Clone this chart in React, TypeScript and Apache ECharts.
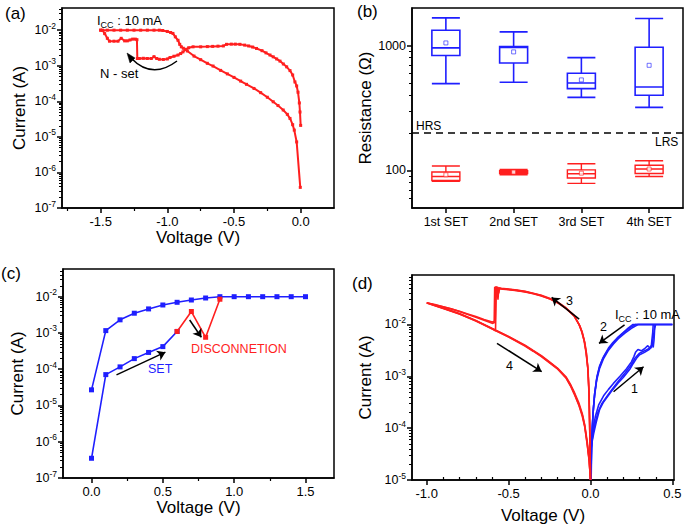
import React, { useEffect, useRef } from 'react';
import * as echarts from 'echarts';

type Pt = [number, number];

const RED = '#ff1f1f';
const BLUE = '#1f1fff';
const BLACK = '#000';
const FONT = "'Liberation Sans', Arial, Helvetica, sans-serif";

// ---------------- (a) negative I-V sweep ----------------
const aSetSweep: Pt[] = [
  [0, 2.1e-5], [-0.005, 5e-5], [-0.01, 9e-5], [-0.02, 1.8e-4], [-0.03, 2.7e-4], [-0.043, 3.5e-4],
  [-0.06, 5.5e-4], [-0.08, 7.3e-4], [-0.105, 9.3e-4], [-0.13, 1.12e-3], [-0.155, 1.35e-3],
  [-0.18, 1.55e-3], [-0.206, 1.78e-3], [-0.23, 2e-3], [-0.26, 2.3e-3], [-0.29, 2.65e-3],
  [-0.331, 3.06e-3], [-0.36, 3.35e-3], [-0.39, 3.6e-3], [-0.42, 3.8e-3], [-0.456, 4e-3],
  [-0.49, 4.05e-3], [-0.52, 4.05e-3], [-0.556, 4e-3], [-0.58, 3.6e-3], [-0.62, 3.55e-3],
  [-0.66, 3.5e-3], [-0.7, 3.45e-3], [-0.75, 3.4e-3], [-0.807, 3.4e-3], [-0.84, 3.2e-3],
  [-0.86, 2.9e-3], [-0.883, 2.45e-3], [-0.9, 2.2e-3], [-0.92, 2e-3], [-0.95, 1.85e-3],
  [-0.98, 1.7e-3], [-1.0, 1.55e-3], [-1.03, 1.5e-3], [-1.06, 1.52e-3], [-1.08, 1.6e-3],
  [-1.1, 1.8e-3], [-1.12, 1.6e-3], [-1.15, 1.6e-3], [-1.18, 1.62e-3], [-1.21, 1.6e-3],
  [-1.225, 1.6e-3], [-1.228, 5.4e-3], [-1.24, 5.6e-3], [-1.26, 5.6e-3], [-1.28, 5.3e-3],
  [-1.3, 5e-3], [-1.32, 5e-3], [-1.346, 5.9e-3], [-1.37, 4.9e-3], [-1.4, 4.9e-3],
  [-1.434, 4.9e-3], [-1.45, 5.9e-3], [-1.47, 8e-3], [-1.486, 1e-2], [-1.5, 1e-2],
];
const aReturnSweep: Pt[] = [
  [-1.5, 1e-2], [-1.45, 1e-2], [-1.4, 1e-2], [-1.35, 1e-2], [-1.3, 1e-2], [-1.25, 1e-2],
  [-1.2, 1e-2], [-1.15, 1e-2], [-1.1, 1e-2], [-1.06, 1e-2], [-1.035, 9.8e-3], [-1.0, 9.2e-3],
  [-0.975, 8.6e-3], [-0.958, 8.1e-3], [-0.94, 6.5e-3], [-0.92, 5.2e-3], [-0.907, 4e-3],
  [-0.895, 3.4e-3], [-0.88, 3.1e-3], [-0.85, 2.6e-3], [-0.8, 1.87e-3], [-0.75, 1.48e-3],
  [-0.7, 1.17e-3], [-0.657, 9.8e-4], [-0.6, 7.4e-4], [-0.55, 5.9e-4], [-0.5, 4.7e-4],
  [-0.45, 3.7e-4], [-0.406, 3e-4], [-0.35, 2.3e-4], [-0.3, 1.75e-4], [-0.25, 1.3e-4],
  [-0.206, 9.7e-5], [-0.17, 7.6e-5], [-0.131, 5.7e-5], [-0.1, 4.3e-5], [-0.08, 3.3e-5],
  [-0.06, 2.2e-5], [-0.048, 1.55e-5], [-0.03, 7.2e-6], [-0.003, 3.8e-7],
];
const aVoltageTicks = [-1.5, -1.0, -0.5, 0.0];
const aVoltageMinor = [-1.75, -1.25, -0.75, -0.25];
const aCurrentTicks = [1e-7, 1e-6, 1e-5, 1e-4, 1e-3, 1e-2];

// ---------------- (b) resistance distribution ----------------
const bCategories = ['1st SET', '2nd SET', '3rd SET', '4th SET'];
// [min, Q1, median, Q3, max]
const bHrsBoxes = [
  [496, 832, 958, 1327, 1667],
  [508, 726, 964, 982, 1288],
  [385, 452, 502, 600, 801],
  [320, 400, 466, 970, 1646],
];
const bHrsMeans = [1050, 890, 531, 695];
const bLrsBoxes = [
  [82, 83, 89.5, 97, 108.5],
  [92.3, 94.6, 97, 99.5, 102],
  [78.7, 87, 94, 101, 113],
  [89.5, 94.6, 102.6, 110, 119.6],
];
const bLrsMeans = [92.3, 97, 95, 102.6];
const bThreshold = 200;
const bResistanceTicks = [100, 1000];

// ---------------- (c) SET with disconnection ----------------
const cSetVoltage = [0, 0.1, 0.2, 0.3, 0.4, 0.5, 0.6];
const cSetCurrent = [3.5e-7, 7.1e-5, 1.16e-4, 1.96e-4, 2.9e-4, 4.2e-4, 1.1e-3];
const cDiscVoltage = [0.6, 0.7, 0.8, 0.9];
const cDiscCurrent = [1.1e-3, 3.9e-3, 7.6e-4, 8.5e-3];
const cReturnVoltage = [1.5, 1.4, 1.3, 1.2, 1.1, 1.0, 0.9, 0.8, 0.7, 0.6, 0.5, 0.4, 0.3, 0.2, 0.1, 0];
const cReturnCurrent = [1e-2, 1e-2, 1e-2, 1e-2, 1e-2, 1e-2, 1e-2, 9.2e-3, 8.1e-3, 7e-3, 5.9e-3, 4.6e-3, 3.5e-3, 2.3e-3, 1.16e-3, 2.7e-5];
const cVoltageTicks = [0.0, 0.5, 1.0, 1.5];
const cVoltageMinor = [0.25, 0.75, 1.25];
const cCurrentTicks = [1e-7, 1e-6, 1e-5, 1e-4, 1e-3, 1e-2];

// ---------------- (d) bipolar cycles ----------------
const dBlueCycle1: Pt[] = [
  [0, 1e-5], [0.004, 3e-5], [0.01, 5.5e-5], [0.02, 8e-5], [0.035, 1.3e-4], [0.056, 2.3e-4],
  [0.08, 3.2e-4], [0.11, 4.3e-4], [0.137, 5.6e-4], [0.17, 7.5e-4], [0.2, 9.5e-4], [0.239, 1.35e-3],
  [0.26, 1.75e-3], [0.28, 2.2e-3], [0.3, 2.6e-3], [0.33, 2.9e-3], [0.36, 3.3e-3], [0.375, 4e-3],
  [0.385, 6e-3], [0.39, 8e-3], [0.395, 1e-2], [0.45, 1e-2], [0.5, 1e-2],
  [0.4, 1e-2], [0.3, 1e-2], [0.26, 1e-2], [0.23, 8.5e-3], [0.2, 7e-3], [0.17, 5.8e-3],
  [0.137, 4.5e-3], [0.11, 3.5e-3], [0.08, 2.4e-3], [0.056, 1.6e-3], [0.04, 1e-3], [0.026, 4.8e-4],
  [0.018, 2.5e-4], [0.012, 1.1e-4], [0.007, 4e-5], [0.004, 1e-5],
];
const dBlueCycle2: Pt[] = [
  [0, 1e-5], [0.006, 4e-5], [0.015, 9e-5], [0.03, 1.7e-4], [0.05, 2.8e-4], [0.08, 4.2e-4],
  [0.11, 5.6e-4], [0.14, 7.3e-4], [0.18, 1e-3], [0.22, 1.4e-3], [0.25, 1.9e-3], [0.265, 2.4e-3],
  [0.275, 2.9e-3], [0.29, 3.3e-3], [0.31, 3.1e-3], [0.33, 3.4e-3], [0.35, 3.9e-3], [0.36, 3.6e-3],
  [0.37, 3.5e-3], [0.375, 5e-3], [0.38, 7e-3], [0.383, 1e-2], [0.5, 1e-2],
  [0.29, 1e-2], [0.25, 8.4e-3], [0.21, 6.8e-3], [0.17, 5.3e-3], [0.14, 4.2e-3], [0.11, 3.2e-3],
  [0.08, 2.2e-3], [0.055, 1.4e-3], [0.038, 8.5e-4], [0.025, 4.2e-4], [0.016, 2e-4], [0.01, 9e-5],
  [0.005, 3e-5], [0.003, 1e-5],
];
const dBlueCycle3: Pt[] = [
  [0, 1e-5], [0.005, 3.5e-5], [0.012, 7e-5], [0.025, 1.1e-4], [0.045, 2e-4], [0.07, 3e-4],
  [0.1, 4.1e-4], [0.13, 5.5e-4], [0.17, 8e-4], [0.21, 1.15e-3], [0.245, 1.6e-3], [0.27, 2.2e-3],
  [0.3, 2.8e-3], [0.33, 3.1e-3], [0.355, 3.4e-3], [0.37, 3.8e-3], [0.378, 4.2e-3], [0.383, 3.6e-3],
  [0.388, 5e-3], [0.392, 8.5e-3], [0.398, 1e-2], [0.5, 1e-2],
  [0.275, 1e-2], [0.24, 8.6e-3], [0.2, 6.9e-3], [0.16, 5.2e-3], [0.13, 4e-3], [0.1, 3e-3],
  [0.075, 2.2e-3], [0.055, 1.5e-3], [0.038, 9e-4], [0.025, 4.5e-4], [0.015, 1.8e-4], [0.009, 8e-5],
  [0.005, 2.5e-5], [0.003, 1e-5],
];
const dRedCycle1: Pt[] = [
  [0, 1e-5], [-0.004, 8e-5], [-0.008, 4e-4], [-0.015, 1.35e-3], [-0.025, 2.8e-3], [-0.035, 4.5e-3],
  [-0.05, 7e-3], [-0.065, 9.4e-3], [-0.1, 1.45e-2], [-0.146, 2e-2], [-0.2, 2.6e-2], [-0.247, 3.1e-2],
  [-0.3, 3.55e-2], [-0.349, 3.9e-2], [-0.4, 4.25e-2], [-0.449, 4.5e-2], [-0.5, 4.7e-2],
  [-0.551, 4.85e-2], [-0.575, 5.1e-2], [-0.578, 5.4e-2], [-0.582, 1.1e-2], [-0.6, 1.05e-2],
  [-0.65, 1.2e-2], [-0.7, 1.38e-2], [-0.753, 1.58e-2], [-0.8, 1.78e-2], [-0.85, 2e-2], [-0.9, 2.2e-2],
  [-0.95, 2.42e-2], [-1.0, 2.62e-2],
  [-0.9, 2.05e-2], [-0.8, 1.6e-2], [-0.7, 1.18e-2], [-0.6, 8.3e-3], [-0.5, 5.8e-3], [-0.4, 3.9e-3],
  [-0.35, 3.1e-3], [-0.3, 2.45e-3], [-0.25, 1.85e-3], [-0.2, 1.4e-3], [-0.15, 9.5e-4], [-0.12, 6.5e-4],
  [-0.1, 4.8e-4], [-0.07, 2.8e-4], [-0.05, 1.8e-4], [-0.035, 1.1e-4], [-0.02, 5e-5], [-0.008, 2.4e-5],
  [0, 1e-5],
];
const dRedCycle2: Pt[] = [
  [0, 1e-5], [-0.005, 1.2e-4], [-0.01, 6e-4], [-0.017, 1.5e-3], [-0.028, 3e-3], [-0.04, 5e-3],
  [-0.055, 7.5e-3], [-0.07, 1e-2], [-0.1, 1.5e-2], [-0.15, 2.1e-2], [-0.2, 2.7e-2], [-0.25, 3.2e-2],
  [-0.3, 3.65e-2], [-0.35, 4e-2], [-0.4, 4.35e-2], [-0.45, 4.6e-2], [-0.5, 4.8e-2], [-0.545, 5e-2],
  [-0.56, 5.1e-2], [-0.565, 3e-2], [-0.57, 5e-2], [-0.575, 5.3e-2], [-0.58, 7.5e-3], [-0.6, 8.4e-3],
  [-0.7, 1.2e-2], [-0.8, 1.62e-2], [-0.9, 2.07e-2], [-1.0, 2.62e-2],
  [-0.9, 2.07e-2], [-0.8, 1.62e-2], [-0.7, 1.2e-2], [-0.6, 8.4e-3], [-0.5, 5.9e-3], [-0.4, 4e-3],
  [-0.35, 3.15e-3], [-0.3, 2.5e-3], [-0.25, 1.9e-3], [-0.2, 1.42e-3], [-0.15, 9.8e-4], [-0.12, 6.8e-4],
  [-0.1, 5e-4], [-0.07, 3e-4], [-0.05, 1.9e-4], [-0.035, 1.15e-4], [-0.02, 5.5e-5], [-0.008, 2.5e-5],
  [0, 1e-5],
];
const dRedCycle3: Pt[] = [
  [0, 1e-5], [-0.004, 7e-5], [-0.009, 4.5e-4], [-0.016, 1.4e-3], [-0.026, 2.9e-3], [-0.037, 4.7e-3],
  [-0.052, 7.2e-3], [-0.068, 9.7e-3], [-0.1, 1.47e-2], [-0.148, 2.05e-2], [-0.2, 2.65e-2],
  [-0.25, 3.15e-2], [-0.3, 3.6e-2], [-0.35, 3.95e-2], [-0.4, 4.3e-2], [-0.45, 4.55e-2],
  [-0.5, 4.75e-2], [-0.54, 4.9e-2], [-0.555, 5e-2], [-0.56, 4e-2], [-0.565, 5.2e-2], [-0.585, 5.2e-2],
  [-0.588, 1.15e-2], [-0.6, 1.12e-2], [-0.65, 1.25e-2], [-0.7, 1.42e-2], [-0.75, 1.6e-2],
  [-0.8, 1.8e-2], [-0.9, 2.2e-2], [-1.0, 2.6e-2],
  [-0.9, 2.04e-2], [-0.8, 1.59e-2], [-0.7, 1.17e-2], [-0.6, 8.2e-3], [-0.5, 5.7e-3], [-0.4, 3.85e-3],
  [-0.35, 3.05e-3], [-0.3, 2.4e-3], [-0.25, 1.82e-3], [-0.2, 1.37e-3], [-0.15, 9.3e-4], [-0.12, 6.3e-4],
  [-0.1, 4.6e-4], [-0.07, 2.7e-4], [-0.05, 1.7e-4], [-0.035, 1.05e-4], [-0.02, 4.8e-5], [-0.008, 2.3e-5],
  [0, 1e-5],
];
const dVoltageTicks = [-1.0, -0.5, 0.0, 0.5];
const dVoltageMinor = [-0.9, -0.8, -0.7, -0.6, -0.4, -0.3, -0.2, -0.1, 0.1, 0.2, 0.3, 0.4];
const dCurrentTicks = [1e-5, 1e-4, 1e-3, 1e-2];

// ---------------- helpers ----------------
const logMinors = (min: number, max: number) => {
  const out: number[] = [];
  for (let e = Math.floor(Math.log10(min)) - 1; e <= Math.ceil(Math.log10(max)); e++) {
    for (let k = 2; k <= 9; k++) {
      const v = k * Math.pow(10, e);
      if (v > min * 1.0001 && v < max * 0.9999) out.push(v);
    }
  }
  return out;
};
const supFormatter = (v: number) => `{b|10}{s|${Math.round(Math.log10(v))}}`;
const supRich = {
  b: { fontSize: 12.5, fontFamily: FONT, color: BLACK, lineHeight: 18 },
  s: { fontSize: 8.5, fontFamily: FONT, color: BLACK, verticalAlign: 'top' },
};
const nameStyle = { fontSize: 17, color: BLACK, fontFamily: FONT };

function voltageAxes(gridIndex: number, min: number, max: number, majors: number[], minors: number[], nameGap: number, minorInside: boolean) {
  return [
    {
      type: 'value', gridIndex, min, max, position: 'bottom',
      name: 'Voltage (V)', nameLocation: 'middle', nameGap, nameTextStyle: nameStyle,
      axisLine: { show: true, onZero: false, lineStyle: { color: BLACK, width: 1.5 } },
      axisTick: { show: true, length: 5, inside: false, customValues: majors, lineStyle: { color: BLACK, width: 1.5 } },
      axisLabel: { show: true, customValues: majors, formatter: (v: number) => Number(v).toFixed(1), color: BLACK, fontSize: 13, fontFamily: FONT, margin: 7 },
      splitLine: { show: false },
    },
    {
      type: 'value', gridIndex, min, max, position: 'bottom',
      axisLine: { show: false, onZero: false },
      axisTick: { show: true, length: 3, inside: minorInside, customValues: minors, lineStyle: { color: BLACK, width: 1.2 } },
      axisLabel: { show: false },
      splitLine: { show: false },
    },
  ];
}

function logAxes(gridIndex: number, min: number, max: number, majors: number[], name: string, nameGap: number, formatter: (v: number) => string, rich?: any) {
  return [
    {
      type: 'log', logBase: 10, gridIndex, min, max, position: 'left',
      name, nameLocation: 'middle', nameGap, nameTextStyle: nameStyle,
      axisLine: { show: true, onZero: false, lineStyle: { color: BLACK, width: 1.5 } },
      axisTick: { show: true, length: 5, inside: false, customValues: majors, lineStyle: { color: BLACK, width: 1.5 } },
      axisLabel: { show: true, customValues: majors, formatter, rich, color: BLACK, fontSize: 12.5, fontFamily: FONT, margin: 6 },
      splitLine: { show: false },
    },
    {
      type: 'log', logBase: 10, gridIndex, min, max, position: 'left',
      axisLine: { show: false, onZero: false },
      axisTick: { show: true, length: 3, inside: false, customValues: logMinors(min, max), lineStyle: { color: BLACK, width: 1 } },
      axisLabel: { show: false },
      splitLine: { show: false },
    },
  ];
}

const arrowLine = (pairs: [Pt, Pt][]) => ({
  silent: true,
  symbol: ['none', 'arrow'],
  symbolSize: 8,
  label: { show: false },
  itemStyle: { color: BLACK },
  lineStyle: { color: BLACK, width: 1.5, type: 'solid' },
  emphasis: { disabled: true },
  data: pairs.map(([s, e]) => [{ coord: s }, { coord: e }]),
});

const txt = (x: number, y: number, text: string, fontSize: number, fill = BLACK, rich?: any) => ({
  type: 'text', x, y, silent: true,
  style: { text, x: 0, y: 0, fontSize, fontFamily: FONT, fill, align: 'left', verticalAlign: 'top', textAlign: 'left', textVerticalAlign: 'top', rich },
});

const iccRich = (size: number) => ({
  n: { fontSize: size, fontFamily: FONT, fill: BLACK, color: BLACK, lineHeight: 18 },
  sub: { fontSize: size - 4, fontFamily: FONT, fill: BLACK, color: BLACK, verticalAlign: 'bottom' },
});

export default function App() {
  const ref = useRef<HTMLDivElement>(null);
  useEffect(() => {
    if (!ref.current) return;
    const chart = echarts.init(ref.current, undefined, { renderer: 'svg' });

    const gridBase = { show: true, borderColor: BLACK, borderWidth: 1.5, backgroundColor: 'transparent', containLabel: false, outerBoundsMode: 'none' };

    const catAxis = (show: boolean) => ({
      type: 'category', gridIndex: 1, data: bCategories, position: 'bottom', boundaryGap: true, show,
      axisLine: { show: true, onZero: false, lineStyle: { color: BLACK, width: 1.5 } },
      axisTick: { show: true, alignWithLabel: true, length: 5, lineStyle: { color: BLACK, width: 1.5 } },
      axisLabel: { color: BLACK, fontSize: 12.5, fontFamily: FONT, margin: 7 },
      splitLine: { show: false },
    });

    const xAxes: any[] = [
      ...voltageAxes(0, -1.79, 0.25, aVoltageTicks, aVoltageMinor, 21, false), // 0,1
      catAxis(true), // 2
      catAxis(false), // 3
      ...voltageAxes(2, -0.2, 1.7, cVoltageTicks, cVoltageMinor, 21, false), // 4,5
      ...voltageAxes(3, -1.09, 0.51, dVoltageTicks, dVoltageMinor, 27, true), // 6,7
    ];
    const yAxes: any[] = [
      ...logAxes(0, 1e-7, 0.042, aCurrentTicks, 'Current (A)', 34, supFormatter, supRich), // 0,1
      ...logAxes(1, 50, 2000, bResistanceTicks, 'Resistance (Ω)', 33, (v: number) => String(Math.round(v))), // 2,3
      ...logAxes(2, 1e-7, 0.058, cCurrentTicks, 'Current (A)', 37, supFormatter, supRich), // 4,5
      ...logAxes(3, 1e-5, 0.09, dCurrentTicks, 'Current (A)', 38, supFormatter, supRich), // 6,7
    ];

    const lineBase = { type: 'line', showSymbol: true, silent: true, animation: false };

    const series: any[] = [
      // (a)
      { ...lineBase, xAxisIndex: 0, yAxisIndex: 0, data: aSetSweep, symbol: 'rect', symbolSize: 3,
        itemStyle: { color: RED }, lineStyle: { color: RED, width: 2 } },
      { ...lineBase, xAxisIndex: 0, yAxisIndex: 0, data: aReturnSweep, symbol: 'rect', symbolSize: 3,
        itemStyle: { color: RED }, lineStyle: { color: RED, width: 2 } },
      // (b)
      { type: 'boxplot', xAxisIndex: 2, yAxisIndex: 2, data: bHrsBoxes, boxWidth: [28, 28], silent: true,
        itemStyle: { color: 'rgba(0,0,0,0)', borderColor: BLUE, borderWidth: 1.6 },
        markLine: { silent: true, symbol: ['none', 'none'], label: { show: false },
          lineStyle: { color: BLACK, width: 1.5, type: [7, 5] }, data: [{ yAxis: bThreshold }] } },
      { type: 'boxplot', xAxisIndex: 3, yAxisIndex: 2, data: bLrsBoxes, boxWidth: [28, 28], silent: true,
        itemStyle: { color: 'rgba(0,0,0,0)', borderColor: RED, borderWidth: 1.4 } },
      { type: 'scatter', xAxisIndex: 2, yAxisIndex: 2, silent: true, symbol: 'rect', symbolSize: 4,
        data: bHrsMeans.map((m, i) => [i, m]), itemStyle: { color: '#fff', borderColor: BLUE, borderWidth: 0.8 } },
      { type: 'scatter', xAxisIndex: 2, yAxisIndex: 2, silent: true, symbol: 'rect', symbolSize: 4,
        data: bLrsMeans.map((m, i) => [i, m]), itemStyle: { color: '#fff', borderColor: RED, borderWidth: 0.8 } },
      // (c)
      { ...lineBase, xAxisIndex: 4, yAxisIndex: 4, data: cReturnVoltage.map((v, i) => [v, cReturnCurrent[i]]),
        symbol: 'rect', symbolSize: 5, itemStyle: { color: BLUE }, lineStyle: { color: BLUE, width: 1.6 } },
      { ...lineBase, xAxisIndex: 4, yAxisIndex: 4, data: cSetVoltage.map((v, i) => [v, cSetCurrent[i]]),
        symbol: 'rect', symbolSize: 5, itemStyle: { color: BLUE }, lineStyle: { color: BLUE, width: 1.6 },
        markLine: arrowLine([
          [[0.175, 6.97e-5], [0.518, 2.95e-4]],
          [[0.688, 2.28e-3], [0.77, 7.6e-4]],
        ]) },
      { ...lineBase, xAxisIndex: 4, yAxisIndex: 4, data: cDiscVoltage.map((v, i) => [v, cDiscCurrent[i]]),
        symbol: 'rect', symbolSize: 5, itemStyle: { color: RED }, lineStyle: { color: RED, width: 1.6 }, z: 3 },
      // (d)
      ...[dBlueCycle1, dBlueCycle2, dBlueCycle3].map((d) => ({
        ...lineBase, xAxisIndex: 6, yAxisIndex: 6, data: d, showSymbol: false, symbol: 'none',
        lineStyle: { color: BLUE, width: 1.6 },
      })),
      ...[dRedCycle1, dRedCycle2, dRedCycle3].map((d, i) => ({
        ...lineBase, xAxisIndex: 6, yAxisIndex: 6, data: d, showSymbol: false, symbol: 'none',
        lineStyle: { color: RED, width: 1.6 },
        ...(i === 0 ? {
          markLine: arrowLine([
            [[-0.069, 1.27e-2], [-0.237, 3.33e-2]],
            [[0.208, 9.8e-3], [0.052, 4.3e-3]],
            [[-0.571, 4.34e-3], [-0.298, 1.23e-3]],
            [[0.141, 5.03e-4], [0.324, 1.53e-3]],
          ]),
        } : {}),
      })),
    ];

    const graphic: any[] = [
      txt(5, 5, '(a)', 17),
      txt(97, 11, '{n|I}{sub|CC}{n| : 10 mA}', 13, BLACK, iccRich(13)),
      txt(100, 67, 'N - set', 13),
      // curved "N - set" arrow
      { type: 'bezierCurve', silent: true,
        shape: { x1: 177, y1: 61, x2: 131, y2: 58, cpx1: 152, cpy1: 80 },
        style: { stroke: BLACK, lineWidth: 1.5, fill: 'none' } },
      { type: 'polygon', silent: true,
        shape: { points: [[127, 53], [135, 58], [130, 63]] },
        style: { fill: BLACK, stroke: BLACK, lineWidth: 0.5 } },
      txt(357, 3, '(b)', 17),
      txt(416, 120, 'HRS', 12),
      txt(655, 136, 'LRS', 12),
      txt(1, 265, '(c)', 17),
      txt(148, 362, 'SET', 12.5, BLUE),
      txt(191, 342, 'DISCONNETION', 12.5, RED),
      txt(352, 275, '(d)', 17),
      txt(566, 294, '3', 12.5),
      txt(600, 320, '2', 12.5),
      txt(506, 359, '4', 12.5),
      txt(631, 382, '1', 12.5),
      txt(615, 305, '{n|I}{sub|CC}{n| : 10 mA}', 13, BLACK, iccRich(13)),
    ];

    chart.setOption({
      animation: false,
      backgroundColor: '#ffffff',
      textStyle: { fontFamily: FONT },
      grid: [
        { ...gridBase, left: 62, top: 8, width: 272, height: 200 },
        { ...gridBase, left: 412, top: 8, width: 271, height: 200 },
        { ...gridBase, left: 63, top: 269, width: 271, height: 209 },
        { ...gridBase, left: 412, top: 275, width: 262, height: 205 },
      ],
      xAxis: xAxes,
      yAxis: yAxes,
      series,
      graphic,
    });
    return () => chart.dispose();
  }, []);
  return <div ref={ref} style={{ position: 'fixed', left: 0, top: 0, width: 685, height: 528 }} />;
}
